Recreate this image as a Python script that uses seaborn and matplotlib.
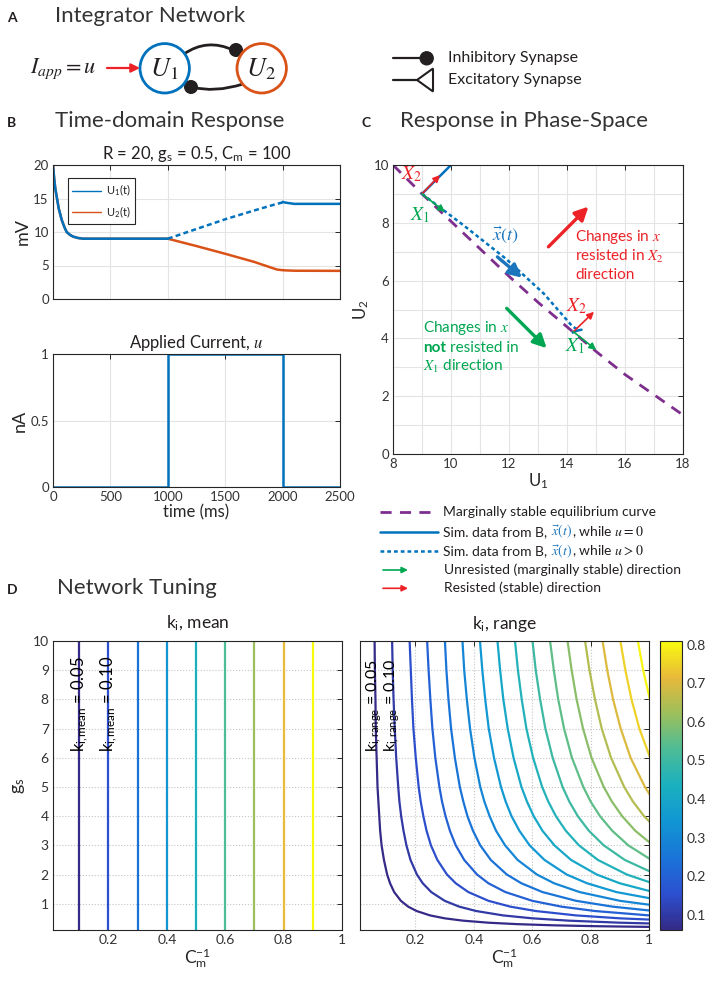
import numpy as np
import pandas as pd
import seaborn as sns
import matplotlib.pyplot as plt
import matplotlib.transforms as mtransforms
from matplotlib.patches import Circle, PathPatch, Polygon
from matplotlib.path import Path
from matplotlib.colors import LinearSegmentedColormap, Normalize
from matplotlib.cm import ScalarMappable
from matplotlib.lines import Line2D
from matplotlib.ticker import MultipleLocator

# ---- values ----
# B: time-domain response (ms, mV)
t_rest = [0, 10, 20, 32, 50, 76, 100, 119, 150, 177, 220, 264, 1000]
u1_rest = [20, 18.0, 16.5, 15.3, 13.5, 11.8, 10.7, 10.0, 9.55, 9.3, 9.1, 9.0, 9.0]
t_on = [1000, 1250, 1500, 1750, 1950, 2000]
u1_on = [9.0, 10.45, 11.9, 13.2, 14.2, 14.4]
u2_on = [9.0, 7.9, 6.75, 5.55, 4.4, 4.3]
t_off = [2000, 2020, 2060, 2100, 2500]
u1_off = [14.5, 14.4, 14.3, 14.2, 14.2]
u2_off = [4.3, 4.28, 4.25, 4.22, 4.2]

# B: applied current (nA)
t_step = [0, 1000, 1000, 2000, 2000, 2500]
u_step = [0, 0, 1, 1, 0, 0]

# C: marginally stable equilibrium curve
eq_u1 = [8, 9, 10, 11, 12, 13, 14, 15, 16, 17, 18]
eq_u2 = [10, 9.0, 8.05, 7.1, 6.15, 5.25, 4.4, 3.55, 2.75, 2.05, 1.35]

# D: k_i,mean contour lines (vertical)
mean_x = [0.1, 0.2, 0.3, 0.4, 0.5, 0.6, 0.7, 0.8, 0.9]
mean_k = [0.05, 0.10, 0.15, 0.20, 0.25, 0.30, 0.35, 0.40, 0.45]
gs_span = [0.1, 10]

# D: k_i,range contour lines, x position of each level at the g_s rows
range_k = [0.05, 0.10, 0.15, 0.20, 0.25, 0.30, 0.35, 0.40,
           0.45, 0.50, 0.55, 0.60, 0.65, 0.70, 0.75, 0.80]
gs_rows = [10, 9, 8, 7, 6, 5, 4.5, 4, 3.5, 3, 2.5, 2, 1.7, 1.4, 1.1, 0.9,
           0.75, 0.6, 0.5, 0.42, 0.35, 0.3, 0.26, 0.23, 0.2]
range_x = [
    [0.060, 0.061, 0.063, 0.064, 0.067, 0.070, 0.073, 0.076, 0.079, 0.084, 0.092, 0.103, 0.113,
     0.127, 0.150, 0.175, 0.204, 0.250, 0.300, 0.363, 0.450, 0.550, 0.675, 0.819, 1.050],
    [0.120, 0.122, 0.125, 0.129, 0.134, 0.141, 0.145, 0.151, 0.159, 0.169, 0.183, 0.205, 0.225,
     0.254, 0.300, 0.350, 0.408, 0.500, 0.600, 0.725, 0.900, 1.100],
    [0.180, 0.184, 0.188, 0.193, 0.201, 0.211, 0.218, 0.227, 0.238, 0.253, 0.275, 0.308, 0.338,
     0.381, 0.450, 0.525, 0.612, 0.750, 0.900, 1.088],
    [0.240, 0.245, 0.251, 0.258, 0.268, 0.282, 0.291, 0.303, 0.318, 0.338, 0.367, 0.411, 0.450,
     0.508, 0.600, 0.700, 0.815, 1.000, 1.200],
    [0.301, 0.306, 0.313, 0.322, 0.335, 0.352, 0.364, 0.378, 0.397, 0.422, 0.458, 0.513, 0.563,
     0.635, 0.750, 0.875, 1.019],
    [0.361, 0.367, 0.376, 0.387, 0.402, 0.422, 0.436, 0.454, 0.476, 0.507, 0.550, 0.616, 0.675,
     0.762, 0.900, 1.050],
    [0.421, 0.429, 0.439, 0.451, 0.469, 0.493, 0.509, 0.529, 0.556, 0.591, 0.642, 0.718, 0.788,
     0.888, 1.050],
    [0.481, 0.490, 0.501, 0.516, 0.536, 0.563, 0.582, 0.605, 0.635, 0.676, 0.733, 0.821, 0.900,
     1.015],
    [0.541, 0.551, 0.564, 0.580, 0.603, 0.634, 0.655, 0.681, 0.715, 0.760, 0.825, 0.924, 1.013],
    [0.601, 0.612, 0.627, 0.645, 0.670, 0.704, 0.727, 0.756, 0.794, 0.845, 0.917, 1.026],
    [0.661, 0.674, 0.689, 0.709, 0.736, 0.775, 0.800, 0.832, 0.874, 0.929, 1.008],
    [0.721, 0.735, 0.752, 0.774, 0.803, 0.845, 0.873, 0.908, 0.953, 1.014],
    [0.781, 0.796, 0.815, 0.838, 0.870, 0.915, 0.945, 0.983, 1.032],
    [0.841, 0.857, 0.877, 0.903, 0.937, 0.986, 1.018],
    [0.902, 0.919, 0.940, 0.967, 1.004],
    [0.962, 0.980, 1.003],
]

# ---- style ----
BLUE = '#0072BD'
ORANGE = '#D95319'
PURPLE = '#7E2F8E'
GREEN = '#00A651'
RED = '#EC2227'
XBLUE = '#1B75BC'
INK = '#231F20'
AXC = '#262626'

parula = LinearSegmentedColormap.from_list(
    'parula', ['#352a87', '#2c50d0', '#1a74d8', '#1196d3', '#1ab0c0',
               '#4cbc96', '#9dbf5c', '#e8b93a', '#f9fb0e'])

sns.set_style('white')
plt.rcParams['font.family'] = ['Lato', 'DejaVu Sans']
plt.rcParams['mathtext.fontset'] = 'stix'
plt.rcParams['text.color'] = INK
plt.rcParams['axes.labelcolor'] = AXC

fig = plt.figure(figsize=(7.08, 9.82), dpi=100)
W, H = 708, 982
renderer = fig.canvas.get_renderer()


def box(l, t, r, b):
    return [l / W, 1 - b / H, (r - l) / W, (b - t) / H]


def matlab_axes(ax, grid_ls='-', grid_color='#e4e4e4', labelsize=9.5):
    for s in ax.spines.values():
        s.set_visible(True)
        s.set_color(AXC)
        s.set_linewidth(0.8)
    ax.tick_params(which='both', direction='in', top=True, right=True, length=3.5,
                   width=0.7, color=AXC, labelcolor='#333333', labelsize=labelsize, pad=3)
    ax.tick_params(which='minor', length=0)
    ax.grid(True, which='both', ls=grid_ls, color=grid_color, lw=0.8)
    ax.set_axisbelow(True)


def arrow(ax, p0, p1, color, lw=1.2, ms=10):
    ax.annotate('', xy=p1, xytext=p0,
                arrowprops=dict(arrowstyle='-|>', color=color, lw=lw,
                                mutation_scale=ms, shrinkA=0, shrinkB=0))


def chain(ax, x, y, parts, transform, **kw):
    dx = 0.0
    for text, color, gap, extra in parts:
        dx += gap
        tr = mtransforms.offset_copy(transform, fig=fig, x=dx, y=0, units='dots')
        t = ax.text(x, y, text, color=color, transform=tr, **kw, **extra)
        dx += t.get_window_extent(renderer).width


# ---- B: time-domain response ----
axB1 = fig.add_axes(box(53, 165, 340, 299))
sns.lineplot(x=t_rest + t_on[1:] + t_off[1:], y=u1_rest + u2_on[1:] + u2_off[1:],
             ax=axB1, color=ORANGE, lw=1.8, sort=False, estimator=None)
sns.lineplot(x=t_rest, y=u1_rest, ax=axB1, color=BLUE, lw=1.8, sort=False, estimator=None)
sns.lineplot(x=t_on, y=u1_on, ax=axB1, color=BLUE, lw=1.8, linestyle=(0, (2, 1.3)),
             sort=False, estimator=None)
sns.lineplot(x=t_off, y=u1_off, ax=axB1, color=BLUE, lw=1.8, sort=False, estimator=None)
matlab_axes(axB1)
axB1.set_xlim(0, 2500)
axB1.set_ylim(0, 20)
axB1.set_xticks(range(0, 2501, 500))
axB1.set_yticks(range(0, 21, 5))
axB1.tick_params(labelbottom=False)
axB1.set_ylabel('mV', fontsize=13, labelpad=2)
axB1.set_title(r'R = 20, $\mathregular{g_s}$ = 0.5, $\mathregular{C_m}$ = 100', fontsize=12, pad=4)
handles = [Line2D([], [], color=BLUE, lw=1), Line2D([], [], color=ORANGE, lw=1)]
leg = axB1.legend(handles, [r'$\mathregular{U_1}$(t)', r'$\mathregular{U_2}$(t)'],
                  loc='upper left', bbox_to_anchor=(0.052, 0.9), borderaxespad=0,
                  fontsize=8, handlelength=2.6, fancybox=False, framealpha=1,
                  edgecolor=AXC, borderpad=0.4, labelspacing=0.5, handletextpad=0.4)
leg.get_frame().set_linewidth(0.8)

axB2 = fig.add_axes(box(53, 354, 340, 487))
sns.lineplot(x=t_step, y=u_step, ax=axB2, color=BLUE, lw=1.8, sort=False, estimator=None)
matlab_axes(axB2)
axB2.set_xlim(0, 2500)
axB2.set_ylim(0, 1)
axB2.set_xticks(range(0, 2501, 500))
axB2.set_yticks([0, 0.5, 1])
axB2.set_yticklabels(['0', '0.5', '1'])
axB2.set_xlabel('time (ms)', fontsize=12, labelpad=1)
axB2.set_ylabel('nA', fontsize=13, labelpad=2)
axB2.set_title('Applied Current, $u$', fontsize=12, pad=4)

# ---- C: phase space ----
axC = fig.add_axes(box(393, 165, 683, 454))
sns.lineplot(x=eq_u1, y=eq_u2, ax=axC, color=PURPLE, lw=2, linestyle=(0, (4, 3)),
             sort=False, estimator=None)
sns.lineplot(x=u1_rest, y=u1_rest, ax=axC, color=BLUE, lw=1.8, sort=False, estimator=None)
sns.lineplot(x=u1_on, y=u2_on, ax=axC, color=BLUE, lw=1.8, linestyle=(0, (1.5, 1.2)),
             sort=False, estimator=None)
sns.lineplot(x=u1_off, y=u2_off, ax=axC, color=BLUE, lw=1.8, sort=False, estimator=None)
matlab_axes(axC)
axC.set_xlim(8, 18)
axC.set_ylim(0, 10)
axC.set_xticks(range(8, 19, 2))
axC.set_yticks(range(0, 11, 2))
axC.xaxis.set_minor_locator(MultipleLocator(1))
axC.yaxis.set_minor_locator(MultipleLocator(1))
axC.set_xlabel(r'$\mathregular{U_1}$', fontsize=12, labelpad=1)
axC.set_ylabel(r'$\mathregular{U_2}$', fontsize=12, labelpad=2)

eq0 = (u1_rest[-1], u1_rest[-1])
arrow(axC, eq0, (9.62, 9.65), RED)
arrow(axC, eq0, (9.79, 8.38), GREEN)
arrow(axC, (14.22, 4.23), (14.93, 4.92), RED)
arrow(axC, (14.22, 4.23), (15.01, 3.6), GREEN)
arrow(axC, (11.6, 6.82), (12.45, 6.1), XBLUE, lw=2.4, ms=20)
arrow(axC, (13.36, 7.17), (14.74, 8.56), RED, lw=2.4, ms=20)
arrow(axC, (11.92, 5.04), (13.3, 3.66), GREEN, lw=2.4, ms=20)
xfont = dict(fontsize=14, ha='center', va='center')
axC.text(8.64, 9.7, '$X_2$', color=RED, **xfont)
axC.text(8.93, 8.27, '$X_1$', color=GREEN, **xfont)
axC.text(14.33, 5.1, '$X_2$', color=RED, **xfont)
axC.text(14.28, 3.72, '$X_1$', color=GREEN, **xfont)
axC.text(11.86, 7.58, r'$\vec{x}(t)$', color=XBLUE, fontsize=13, ha='center', va='center')
for yy, s in zip([7.52, 6.85, 6.2], ['Changes in $x$', 'resisted in $X_2$', 'direction']):
    axC.text(14.28, yy, s, color=RED, fontsize=11, va='center')
axC.text(9.05, 4.35, 'Changes in $x$', color=GREEN, fontsize=11, va='center')
chain(axC, 9.05, 3.68, [('not', GREEN, 0, {'weight': 'bold'}),
                        ('resisted in', GREEN, 3.5, {})],
      axC.transData, fontsize=11, va='center')
axC.text(9.05, 3.02, '$X_1$ direction', color=GREEN, fontsize=11, va='center')

# ---- D: network tuning ----
df_mean = pd.DataFrame({'x': np.repeat(mean_x, 2),
                        'g': gs_span * len(mean_x),
                        'k': np.repeat(mean_k, 2)})
rows = []
for k, xs in zip(range_k, range_x):
    for x, g in zip(xs, gs_rows):
        rows.append((x, g, k))
df_range = pd.DataFrame(rows, columns=['x', 'g', 'k'])

axL = fig.add_axes(box(53, 641, 342, 930))
sns.lineplot(data=df_mean, x='x', y='g', hue='k', palette=parula, hue_norm=(0.05, 0.45),
             sort=False, estimator=None, legend=False, lw=1.6, ax=axL)
axR = fig.add_axes(box(360, 641, 649, 930))
sns.lineplot(data=df_range, x='x', y='g', hue='k', palette=parula, hue_norm=(0.06, 0.81),
             sort=False, estimator=None, legend=False, lw=1.6, ax=axR)
for ax, name in [(axL, 'mean'), (axR, 'range')]:
    matlab_axes(ax, grid_ls=':', grid_color='#c4c4c4', labelsize=10)
    ax.set_xlim(0.01, 1)
    ax.set_ylim(0.1, 10)
    ax.set_xticks([0.2, 0.4, 0.6, 0.8, 1])
    ax.set_xticklabels(['0.2', '0.4', '0.6', '0.8', '1'])
    ax.set_yticks(range(1, 11))
    ax.set_xlabel(r'$\mathregular{C_m^{-1}}$', fontsize=12.5, labelpad=0)
    ax.set_ylabel('')
    ax.set_title(r'$\mathregular{k_i}$, ' + name, fontsize=12.5, pad=9)
axL.set_ylabel(r'$\mathregular{g_s}$', fontsize=13, labelpad=4)
axR.tick_params(labelleft=False)
for x0, k in zip(mean_x[:2], mean_k[:2]):
    axL.text(x0, 6.2, r'$\mathregular{k_{i,mean}}$ = %.2f' % k, rotation=90,
             ha='center', va='bottom', fontsize=12, color='black')
for x0, k in zip([range_x[0][0], range_x[1][0]], range_k[:2]):
    axR.text(x0, 6.2, r'$\mathregular{k_{i,range}}$ = %.2f' % k, rotation=90,
             ha='center', va='bottom', fontsize=11.5, color='black')

cax = fig.add_axes(box(660, 641, 682, 930))
cb = fig.colorbar(ScalarMappable(norm=Normalize(0.06, 0.81), cmap=parula), cax=cax,
                  ticks=[0.1, 0.2, 0.3, 0.4, 0.5, 0.6, 0.7, 0.8])
cb.outline.set_edgecolor(AXC)
cb.outline.set_linewidth(0.8)
cax.tick_params(direction='in', length=3, width=0.7, labelsize=10, color=AXC,
                labelcolor='#333333')

# ---- overlay: panel titles, diagram, legend of C ----
ov = fig.add_axes([0, 0, 1, 1], zorder=10)
ov.set_xlim(0, W)
ov.set_ylim(H, 0)
ov.axis('off')
ov.patch.set_alpha(0)

for lab, x0, xt, yb, title in [('A', 7, 55, 22, 'Integrator Network'),
                               ('B', 7, 55, 127, 'Time-domain Response'),
                               ('C', 362, 400, 127, 'Response in Phase-Space'),
                               ('D', 7, 57, 594, 'Network Tuning')]:
    ov.text(x0, yb, lab, fontsize=10, weight='bold', va='baseline')
    ov.text(xt, yb, title, fontsize=16, va='baseline', color='#333333')

# panel A diagram
ov.text(30, 73, r'$I_{app} = u$', fontsize=16, va='baseline')
ov.annotate('', xy=(140, 68), xytext=(107, 68),
            arrowprops=dict(arrowstyle='-|>', color=RED, lw=1.6, mutation_scale=13,
                            shrinkA=0, shrinkB=0))
ov.add_patch(PathPatch(Path([(184, 54), (207, 38), (233, 50)],
                            [Path.MOVETO, Path.CURVE3, Path.CURVE3]),
                       fill=False, lw=2, ec=INK))
ov.add_patch(PathPatch(Path([(191, 87), (215, 93), (243, 84)],
                            [Path.MOVETO, Path.CURVE3, Path.CURVE3]),
                       fill=False, lw=2, ec=INK))
ov.add_patch(Circle((236, 50), 6.3, color=INK))
ov.add_patch(Circle((191, 87), 6.3, color=INK))
ov.add_patch(Circle((164.7, 68.3), 24.7, fill=False, lw=2, ec=BLUE))
ov.add_patch(Circle((261.7, 68.3), 24.7, fill=False, lw=2, ec=ORANGE))
ov.text(164, 69, '$U_1$', fontsize=19, ha='center', va='center')
ov.text(261, 69, '$U_2$', fontsize=19, ha='center', va='center')

# synapse legend
ov.plot([393, 421], [58.3, 58.3], color=INK, lw=1.6)
ov.add_patch(Circle((426.7, 58.3), 6.5, color=INK))
ov.plot([393, 417], [80, 80], color=INK, lw=1.6)
ov.add_patch(Polygon([(417, 80), (433, 68.5), (433, 91.5)], closed=True, fill=False,
                     lw=1.5, ec=INK))
ov.text(448, 58.3, 'Inhibitory Synapse', fontsize=11.5, va='center')
ov.text(448, 80, 'Excitatory Synapse', fontsize=11.5, va='center')

# legend for C
ov.plot([380, 438], [512, 512], color=PURPLE, lw=2, linestyle=(0, (4, 3)))
ov.plot([380, 438], [532, 532], color=BLUE, lw=1.8)
ov.plot([380, 438], [551, 551], color=BLUE, lw=1.8, linestyle=(0, (1.5, 1.2)))
arrow(ov, (383, 570), (408, 570), GREEN, lw=1.2, ms=9)
arrow(ov, (383, 588.3), (408, 588.3), RED, lw=1.2, ms=9)
lfs = dict(fontsize=10, va='baseline')
ov.text(443, 516, 'Marginally stable equilibrium curve', **lfs)
chain(ov, 443, 535.7, [('Sim. data from B,', INK, 0, {}), (r'$\vec{x}(t)$', XBLUE, 3.5, {}),
                       (', while $u = 0$', INK, 0, {})], ov.transData, **lfs)
chain(ov, 443, 555, [('Sim. data from B,', INK, 0, {}), (r'$\vec{x}(t)$', XBLUE, 3.5, {}),
                     (', while $u > 0$', INK, 0, {})], ov.transData, **lfs)
ov.text(444, 574, 'Unresisted (marginally stable) direction', **lfs)
ov.text(444, 592.3, 'Resisted (stable) direction', **lfs)

fig.savefig('out.png', dpi=100)
